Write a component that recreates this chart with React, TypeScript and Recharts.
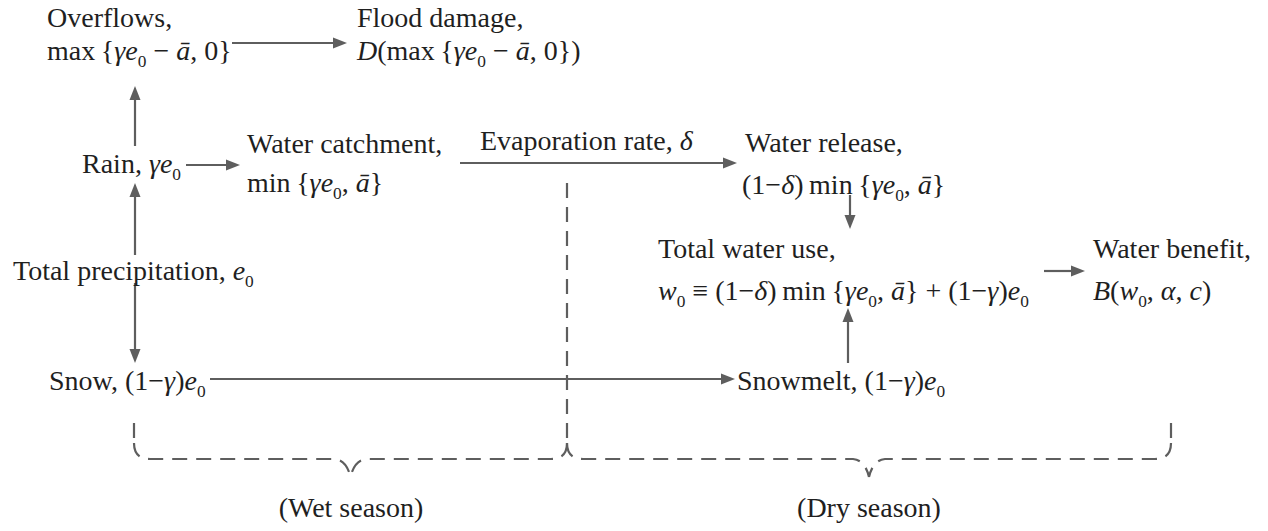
import React from 'react';
import { ReferenceLine, Scatter, ScatterChart, XAxis, YAxis } from 'recharts';

const W = 1268;
const H = 531;

const INK = '#1f1f1f';
const LINE = '#5e5e5e';
const FONT = 'Liberation Serif';
const FS = 28;

// *...* = italic, _x = subscript character
const labels = [
  { text: 'Overflows,', x: 47, y: 17 },
  { text: 'max\u2009{*γe*_0 − *ā*, 0}', x: 47, y: 50 },
  { text: 'Flood damage,', x: 357, y: 17 },
  { text: '*D*(max\u2009{*γe*_0 − *ā*, 0})', x: 357, y: 50 },
  { text: 'Rain, *γe*_0', x: 82, y: 163 },
  { text: 'Water catchment,', x: 247, y: 143 },
  { text: 'min\u2009{*γe*_0, *ā*}', x: 247, y: 182 },
  { text: 'Evaporation rate, *δ*', x: 480, y: 140 },
  { text: 'Water release,', x: 745, y: 142 },
  { text: '(1−*δ*)\u2009min\u2009{*γe*_0, *ā*}', x: 742, y: 184 },
  { text: 'Total water use,', x: 658, y: 248 },
  { text: '*w*_0 ≡ (1−*δ*)\u2009min\u2009{*γe*_0, *ā*} + (1−*γ*)*e*_0', x: 658, y: 290 },
  { text: 'Water benefit,', x: 1093, y: 248 },
  { text: '*B*(*w*_0, *α*, *c*)', x: 1093, y: 290 },
  { text: 'Total precipitation, *e*_0', x: 13, y: 270 },
  { text: 'Snow, (1−*γ*)*e*_0', x: 49, y: 380 },
  { text: 'Snowmelt, (1−*γ*)*e*_0', x: 737, y: 380 },
];

const seasons = [
  { text: '(Wet season)', x: 351, y: 507 },
  { text: '(Dry season)', x: 869, y: 507 },
];

const arrows = [
  { x1: 232, y1: 43, x2: 347, y2: 43 },
  { x1: 135, y1: 146, x2: 135, y2: 86 },
  { x1: 186, y1: 165, x2: 240, y2: 165 },
  { x1: 460, y1: 163, x2: 737, y2: 163 },
  { x1: 850, y1: 195, x2: 850, y2: 229 },
  { x1: 1044, y1: 271, x2: 1085, y2: 271 },
  { x1: 848, y1: 363, x2: 848, y2: 308 },
  { x1: 135, y1: 255, x2: 135, y2: 183 },
  { x1: 135, y1: 283, x2: 135, y2: 363 },
  { x1: 210, y1: 379, x2: 735, y2: 379 },
];

const dividers = [
  { x: 567, y1: 183, y2: 443 },
  { x: 134, y1: 423, y2: 443 },
  { x: 1171, y1: 423, y2: 443 },
];

const braces = [
  { x1: 134, x2: 567, y1: 443, y2: 459 },
  { x1: 567, x2: 1171, y1: 443, y2: 459 },
];

type Run = { t: string; italic: boolean; sub: boolean };

function parseMarkup(s: string): Run[] {
  const out: Run[] = [];
  let italic = false;
  for (let i = 0; i < s.length; i++) {
    const c = s[i];
    if (c === '*') {
      italic = !italic;
      continue;
    }
    if (c === '_') {
      out.push({ t: s[i + 1], italic: false, sub: true });
      i++;
      continue;
    }
    const ch = c === ' ' ? '\u00a0' : c;
    const last = out[out.length - 1];
    if (last && !last.sub && last.italic === italic) last.t += ch;
    else out.push({ t: ch, italic, sub: false });
  }
  return out;
}

const RichText = ({ x, y, text, anchor }: { x: number; y: number; text: string; anchor?: string }) => {
  const runs = parseMarkup(text);
  let shift = 0;
  return (
    <text
      x={x}
      y={y + FS * 0.34}
      fill={INK}
      fontFamily={FONT}
      fontSize={FS}
      textAnchor={anchor || 'start'}
    >
      {runs.map((r, i) => {
        const target = r.sub ? 7 : 0;
        const dy = target - shift;
        shift = target;
        return (
          <tspan
            key={i}
            dy={dy || undefined}
            fontFamily={FONT}
            fontStyle={r.italic ? 'italic' : 'normal'}
            fontSize={r.sub ? FS * 0.62 : FS}
          >
            {r.t}
          </tspan>
        );
      })}
    </text>
  );
};

const LabelShape = (props: any) => {
  const { cx, cy, payload } = props;
  return <RichText x={cx} y={cy} text={payload.text} />;
};

const SeasonShape = (props: any) => {
  const { cx, cy, payload } = props;
  return <RichText x={cx} y={cy} text={payload.text} anchor="middle" />;
};

const ArrowShape = (props: any) => {
  const { x1, y1, x2, y2 } = props;
  const len = Math.hypot(x2 - x1, y2 - y1) || 1;
  const ux = (x2 - x1) / len;
  const uy = (y2 - y1) / len;
  const head = 14;
  const half = 5.5;
  const bx = x2 - ux * head;
  const by = y2 - uy * head;
  const pts = `${x2},${y2} ${bx - uy * half},${by + ux * half} ${bx + uy * half},${by - ux * half}`;
  return (
    <g>
      <line x1={x1} y1={y1} x2={bx + ux} y2={by + uy} stroke={LINE} strokeWidth={2.2} />
      <polygon points={pts} fill={LINE} />
    </g>
  );
};

const BraceShape = (props: any) => {
  const { x1, y1, x2, y2 } = props;
  const left = Math.min(x1, x2);
  const right = Math.max(x1, x2);
  const top = Math.min(y1, y2);
  const bot = Math.max(y1, y2);
  const r = bot - top;
  const mid = (left + right) / 2;
  const d = [
    `M ${left} ${top}`,
    `Q ${left} ${bot} ${left + r} ${bot}`,
    `L ${mid - 16} ${bot}`,
    `Q ${mid - 4} ${bot + 1} ${mid} ${bot + 18}`,
    `M ${right} ${top}`,
    `Q ${right} ${bot} ${right - r} ${bot}`,
    `L ${mid + 16} ${bot}`,
    `Q ${mid + 4} ${bot + 1} ${mid} ${bot + 18}`,
  ].join(' ');
  return <path d={d} fill="none" stroke={LINE} strokeWidth={2.2} strokeDasharray="15 9" />;
};

export default function App() {
  return (
    <div style={{ position: 'absolute', left: 0, top: 0, background: '#fff' }}>
      <ScatterChart width={W} height={H} margin={{ top: 0, right: 0, bottom: 0, left: 0 }}>
        <XAxis type="number" dataKey="x" domain={[0, W]} hide />
        <YAxis type="number" dataKey="y" domain={[0, H]} reversed hide />
        {dividers.map((d, i) => (
          <ReferenceLine
            key={`div-${i}`}
            segment={[{ x: d.x, y: d.y1 }, { x: d.x, y: d.y2 }]}
            stroke={LINE}
            strokeWidth={2.2}
            strokeDasharray="15 9"
          />
        ))}
        {braces.map((b, i) => (
          <ReferenceLine
            key={`brace-${i}`}
            segment={[{ x: b.x1, y: b.y1 }, { x: b.x2, y: b.y2 }]}
            shape={BraceShape}
          />
        ))}
        {arrows.map((a, i) => (
          <ReferenceLine
            key={`arrow-${i}`}
            segment={[{ x: a.x1, y: a.y1 }, { x: a.x2, y: a.y2 }]}
            shape={ArrowShape}
          />
        ))}
        <Scatter data={labels} dataKey="y" shape={LabelShape} isAnimationActive={false} />
        <Scatter data={seasons} dataKey="y" shape={SeasonShape} isAnimationActive={false} />
      </ScatterChart>
    </div>
  );
}
